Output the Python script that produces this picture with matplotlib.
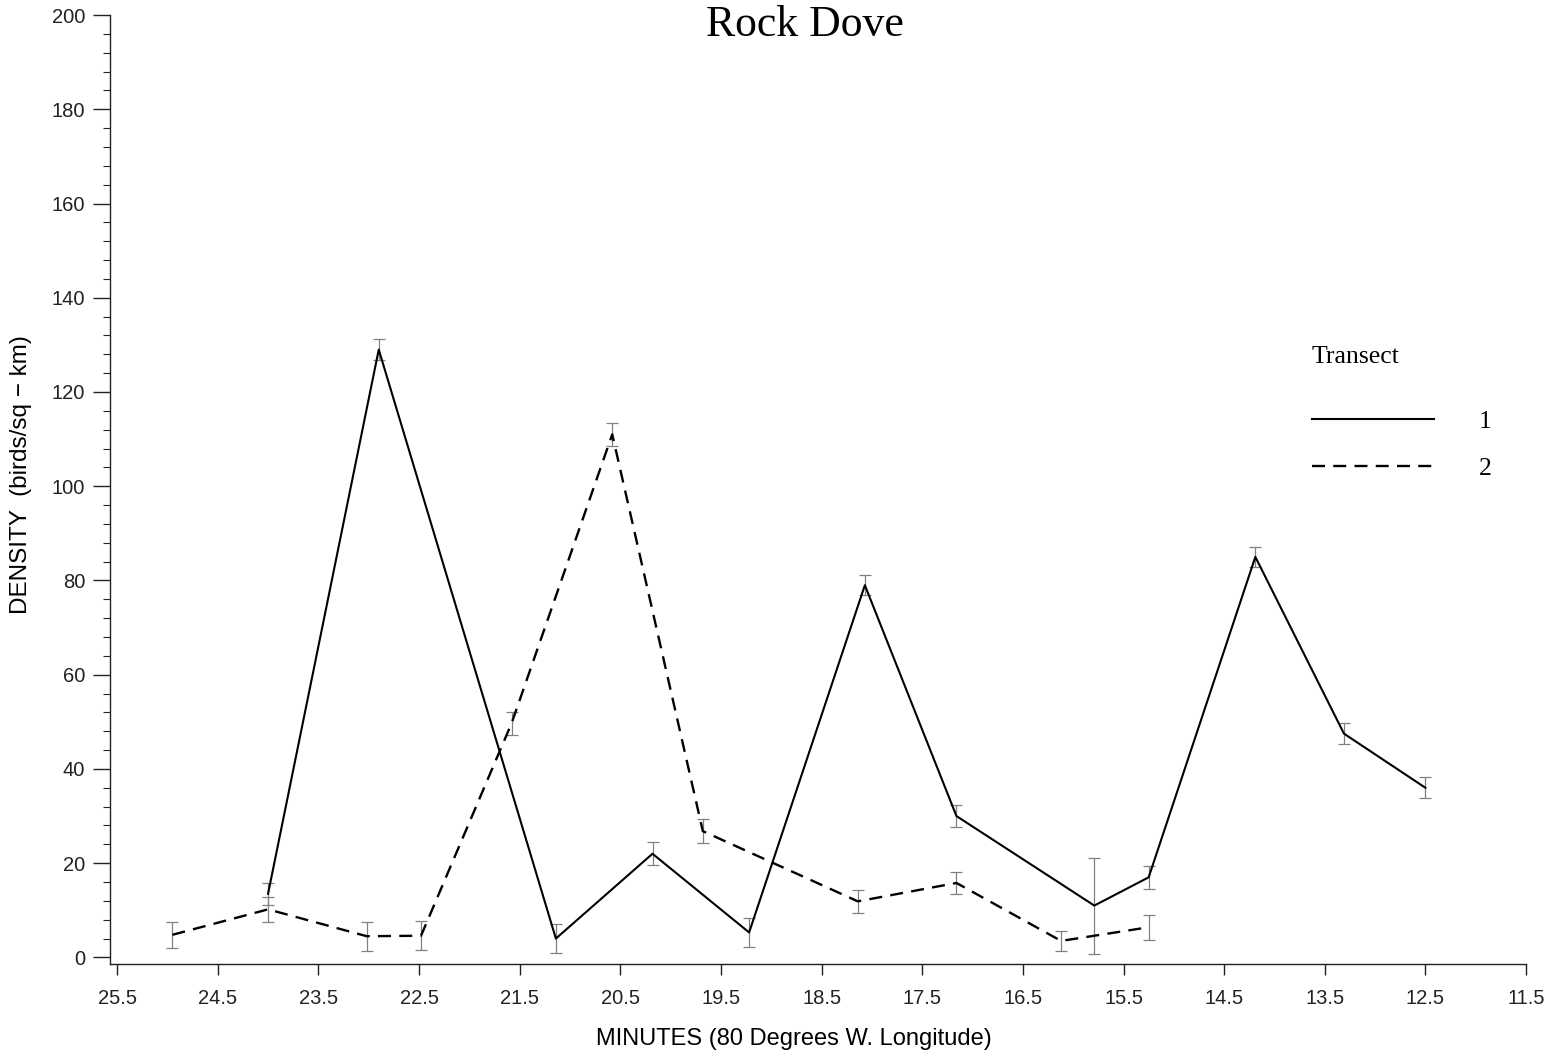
import matplotlib
matplotlib.use('Agg')
import matplotlib.pyplot as plt
from matplotlib import font_manager
from matplotlib.ticker import MultipleLocator
from matplotlib.lines import Line2D

# fonts: sans for axes, serif for title / legend
installed = {f.name for f in font_manager.fontManager.ttflist}
SANS = ['Liberation Sans', 'DejaVu Sans'] if 'Liberation Sans' in installed else ['DejaVu Sans']
SERIF = ['Liberation Serif', 'DejaVu Serif'] if 'Liberation Serif' in installed else ['DejaVu Serif']
plt.rcParams['font.family'] = SANS

# ---- data ----
# Transect 1 (solid)
t1_minutes = [24.0, 22.9, 21.14, 20.18, 19.22, 18.07, 17.16, 15.79, 15.25, 14.19, 13.31, 12.5]
t1_density = [13.5, 129.0, 4.0, 22.0, 5.3, 79.0, 30.0, 11.0, 17.0, 85.0, 47.5, 36.0]
t1_err = [2.3, 2.2, 3.1, 2.4, 3.0, 2.1, 2.3, 10.2, 2.5, 2.2, 2.2, 2.2]

# Transect 2 (dashed)
t2_minutes = [24.95, 24.0, 23.02, 22.48, 21.58, 20.58, 19.68, 18.14, 17.16, 16.12, 15.25]
t2_density = [4.8, 10.2, 4.5, 4.6, 49.7, 111.0, 26.8, 11.9, 15.8, 3.5, 6.4]
t2_err = [2.7, 2.6, 3.1, 3.1, 2.4, 2.5, 2.5, 2.5, 2.4, 2.1, 2.7]

x_ticks = [25.5, 24.5, 23.5, 22.5, 21.5, 20.5, 19.5, 18.5, 17.5, 16.5, 15.5, 14.5, 13.5, 12.5, 11.5]
y_ticks = [0, 20, 40, 60, 80, 100, 120, 140, 160, 180, 200]

fig = plt.figure(figsize=(15.52, 10.59), dpi=100)
ax = fig.add_axes([0.0709, 0.0897, 0.9124, 0.8961])

DASH = (0, (5.5, 3.5))

# error bars (thin grey), then the lines on top
ax.errorbar(t1_minutes, t1_density, yerr=t1_err, fmt='none', ecolor='#808080',
            elinewidth=0.9, capsize=4, capthick=0.9, zorder=2)
ax.errorbar(t2_minutes, t2_density, yerr=t2_err, fmt='none', ecolor='#808080',
            elinewidth=0.9, capsize=4, capthick=0.9, zorder=2)
ax.plot(t1_minutes, t1_density, color='black', lw=1.5, zorder=3)
ax.plot(t2_minutes, t2_density, color='black', lw=1.7, linestyle=DASH, zorder=3)

# axes: reversed longitude, frame only left / bottom
ax.set_xlim(25.57, 11.5)
ax.set_ylim(-1.4, 200)
for side in ['top', 'right']:
    ax.spines[side].set_visible(False)
for side in ['left', 'bottom']:
    ax.spines[side].set_linewidth(1.0)
    ax.spines[side].set_color('#222222')

ax.set_xticks(x_ticks)
ax.set_xticklabels([f'{v:.1f}' for v in x_ticks])
ax.set_yticks(y_ticks)
ax.yaxis.set_minor_locator(MultipleLocator(4))
ax.tick_params(axis='x', which='major', direction='out', length=8, width=1.0,
               pad=10, labelsize=14.5, colors='#222222')
ax.tick_params(axis='y', which='major', direction='out', length=12, width=1.0,
               pad=6, labelsize=14.5, colors='#222222')
ax.tick_params(axis='y', which='minor', direction='out', length=5, width=0.8,
               colors='#222222')

ax.set_xlabel('MINUTES (80 Degrees W. Longitude)', fontsize=17, va='center')
ax.xaxis.set_label_coords(0.483, -0.079)
ax.set_ylabel('DENSITY  (birds/sq − km)', fontsize=17.5, va='center')
ax.yaxis.set_label_coords(-0.063, 0.516)

fig.text(805 / 1552, 1 - 36 / 1059, 'Rock Dove', family=SERIF, fontsize=31.5,
         ha='center', va='baseline')

# legend: "Transect" heading, long handles, labels to the right
handles = [Line2D([], [], color='black', lw=1.5),
           Line2D([], [], color='black', lw=1.7, linestyle=DASH)]
leg = ax.legend(handles, ['1', '2'], title='Transect', loc='upper left',
                bbox_to_anchor=(1312 / 1552, 1 - 346 / 1059),
                bbox_transform=fig.transFigure, frameon=False,
                handlelength=4.75, handletextpad=1.75, labelspacing=0.95,
                borderpad=0, borderaxespad=0,
                prop={'family': SERIF, 'size': 18.5},
                title_fontproperties={'family': SERIF, 'size': 18.5},
                alignment='left')
leg._legend_box.sep = 30

fig.savefig('out.png', dpi=100)
